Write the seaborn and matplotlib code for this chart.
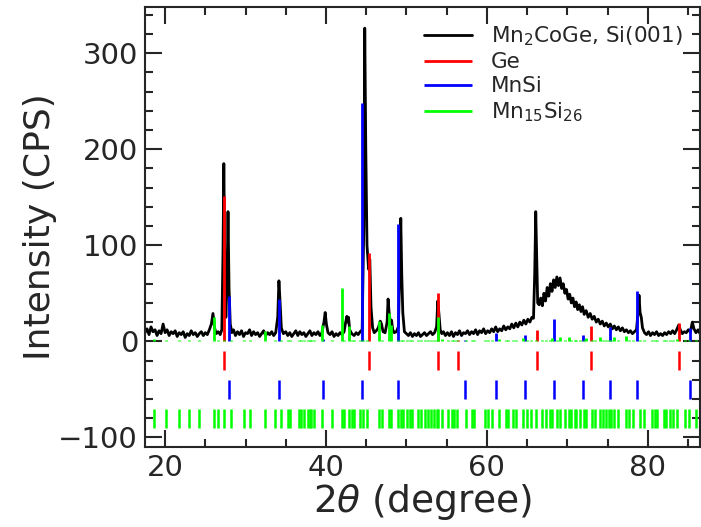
import numpy as np
import pandas as pd
import matplotlib
matplotlib.use("Agg")
import matplotlib.pyplot as plt
from matplotlib.ticker import MultipleLocator
import seaborn as sns

# Measured XRD scan of the Mn2CoGe film on Si(001)
two_theta = [
    17.50, 17.75, 18.00, 18.25, 18.50, 18.75, 19.00, 19.25, 19.50, 19.75,
    20.00, 20.25, 20.50, 20.75, 21.00, 21.25, 21.50, 21.75, 22.00, 22.25,
    22.50, 22.75, 23.00, 23.25, 23.50, 23.75, 24.00, 24.25, 24.50, 24.75,
    25.00, 25.25, 25.50, 25.75, 25.95, 26.15, 26.35, 26.60, 26.85, 27.05,
    27.20, 27.30, 27.42, 27.55, 27.70, 27.82, 27.95, 28.10, 28.30, 28.50,
    28.75, 29.00, 29.25, 29.50, 29.75, 30.00, 30.25, 30.50, 30.75, 31.00,
    31.25, 31.50, 31.75, 32.00, 32.25, 32.50, 32.75, 33.00, 33.25, 33.50,
    33.75, 34.00, 34.15, 34.30, 34.45, 34.70, 35.00, 35.25, 35.50, 35.75,
    36.00, 36.25, 36.50, 36.75, 37.00, 37.25, 37.50, 37.75, 38.00, 38.25,
    38.50, 38.75, 39.00, 39.25, 39.50, 39.75, 39.90, 40.05, 40.25, 40.50,
    40.75, 41.00, 41.25, 41.50, 41.75, 42.00, 42.25, 42.45, 42.60, 42.70,
    42.80, 42.95, 43.20, 43.50, 43.75, 44.00, 44.25, 44.50, 44.70, 44.82,
    44.95, 45.10, 45.30, 45.45, 45.60, 45.80, 46.00, 46.25, 46.50, 46.75,
    46.90, 47.10, 47.35, 47.60, 47.72, 47.85, 48.00, 48.15, 48.30, 48.50,
    48.75, 49.00, 49.15, 49.30, 49.42, 49.55, 49.75, 50.00, 50.25, 50.50,
    50.75, 51.00, 51.25, 51.50, 51.75, 52.00, 52.25, 52.50, 52.75, 53.00,
    53.25, 53.50, 53.75, 53.90, 54.05, 54.20, 54.40, 54.60, 54.85, 55.10,
    55.35, 55.60, 55.85, 56.10, 56.35, 56.60, 56.85, 57.10, 57.35, 57.60,
    57.85, 58.10, 58.35, 58.60, 58.85, 59.10, 59.35, 59.60, 59.85, 60.10,
    60.35, 60.60, 60.85, 61.10, 61.35, 61.60, 61.85, 62.10, 62.35, 62.60,
    62.85, 63.10, 63.35, 63.60, 63.85, 64.10, 64.35, 64.60, 64.85, 65.10,
    65.35, 65.60, 65.80, 65.95, 66.08, 66.20, 66.32, 66.50, 66.70, 66.90,
    67.10, 67.30, 67.50, 67.70, 67.90, 68.10, 68.30, 68.50, 68.70, 68.90,
    69.10, 69.30, 69.50, 69.70, 69.90, 70.10, 70.30, 70.50, 70.70, 70.90,
    71.10, 71.30, 71.50, 71.70, 71.90, 72.10, 72.35, 72.60, 72.85, 73.10,
    73.35, 73.60, 73.85, 74.10, 74.35, 74.60, 74.85, 75.10, 75.35, 75.60,
    75.85, 76.10, 76.35, 76.60, 76.85, 77.10, 77.35, 77.60, 77.85, 78.10,
    78.35, 78.60, 78.80, 78.92, 79.05, 79.20, 79.35, 79.60, 79.85, 80.10,
    80.35, 80.60, 80.85, 81.10, 81.35, 81.60, 81.85, 82.10, 82.35, 82.60,
    82.85, 83.10, 83.35, 83.60, 83.85, 84.05, 84.30, 84.55, 84.80, 85.05,
    85.30, 85.55, 85.75, 86.00, 86.25, 86.50,
]
counts = [
    9, 13, 7, 15, 10, 12, 6, 11, 8, 18,
    9, 12, 6, 10, 8, 11, 5, 9, 7, 10,
    4, 8, 6, 11, 7, 9, 5, 8, 10, 6,
    9, 7, 12, 18, 29, 14, 8, 10, 7, 12,
    95, 185, 80, 25, 60, 135, 55, 18, 9, 12,
    6, 10, 7, 11, 5, 9, 8, 12, 6, 10,
    7, 9, 5, 8, 11, 6, 9, 7, 10, 6,
    9, 25, 63, 40, 14, 8, 10, 6, 9, 5,
    8, 11, 6, 10, 7, 9, 5, 8, 11, 6,
    9, 7, 10, 6, 9, 20, 30, 18, 9, 7,
    10, 5, 8, 6, 9, 7, 10, 20, 26, 20,
    25, 12, 8, 6, 9, 7, 10, 12, 120, 326,
    200, 100, 75, 85, 35, 14, 9, 11, 14, 21,
    18, 10, 9, 20, 44, 30, 20, 22, 12, 9,
    10, 15, 65, 128, 70, 30, 10, 8, 6, 9,
    5, 8, 6, 9, 5, 7, 9, 6, 8, 10,
    7, 9, 15, 42, 28, 12, 8, 10, 6, 9,
    6, 10, 5, 9, 7, 11, 6, 9, 8, 11,
    7, 10, 8, 12, 7, 11, 9, 13, 8, 11,
    9, 13, 10, 15, 10, 13, 11, 16, 12, 15,
    13, 18, 14, 19, 15, 20, 17, 22, 18, 23,
    20, 25, 24, 70, 135, 90, 40, 38, 45, 37,
    50, 42, 56, 47, 60, 52, 64, 56, 67, 58,
    66, 55, 60, 50, 54, 44, 49, 40, 45, 36,
    41, 33, 38, 31, 36, 28, 32, 25, 29, 23,
    26, 20, 23, 18, 21, 16, 19, 15, 18, 13,
    16, 12, 15, 11, 14, 10, 12, 9, 11, 8,
    10, 12, 30, 48, 30, 25, 14, 9, 7, 10,
    6, 9, 7, 10, 6, 8, 6, 9, 7, 10,
    8, 11, 8, 12, 17, 12, 8, 10, 9, 12,
    10, 20, 13, 9, 12, 8,
]

# Reference reflections: positions (degree) and relative heights (CPS)
ge_pos = [27.30, 45.40, 53.95, 56.40, 66.20, 73.00, 83.90]
ge_int = [151, 92, 50, 1, 12, 16, 19]

mnsi_pos = [27.90, 34.10, 39.60, 44.50, 49.00, 57.30, 61.10, 64.80,
            68.40, 71.90, 75.30, 78.70, 85.30]
mnsi_int = [47, 44, 2, 248, 122, 1, 9, 7, 23, 7, 15, 52, 14]

mn15si26_pos = [
    18.63, 20.17, 21.70, 22.94, 24.18, 26.09, 26.58, 27.33, 28.24, 29.81,
    30.52, 32.46, 33.70, 34.45, 35.28, 35.49, 36.61, 36.94, 37.27, 37.76,
    37.97, 38.18, 38.51, 39.54, 40.75, 42.03, 42.24, 42.82, 43.23, 43.48,
    44.19, 44.60, 45.09, 46.55, 46.96, 47.79, 48.04, 48.94, 49.28, 49.57,
    50.10, 50.40, 50.68, 51.43, 51.84, 52.30, 52.71, 53.00, 53.42, 53.75,
    53.95, 54.45, 55.20, 55.61, 55.94, 56.24, 57.35, 58.10, 58.38, 59.83,
    60.17, 60.58, 61.49, 62.32, 62.65, 63.27, 63.60, 64.51, 64.93, 65.47,
    66.17, 66.80, 67.33, 67.83, 68.16, 68.73, 69.07, 69.77, 70.19, 70.52,
    70.93, 71.14, 71.55, 72.05, 72.38, 73.08, 73.42, 74.12, 74.45, 74.87,
    75.16, 75.49, 75.82, 76.31, 77.27, 77.68, 78.18, 79.01, 79.50, 80.54,
    80.87, 81.20, 82.03, 82.32, 82.73, 83.15, 83.65, 84.60, 85.14, 85.96,
]
mn15si26_int = [
    2, 1, 1, 1, 1, 25, 1, 1, 1, 1,
    1, 11, 1, 1, 1, 1, 1, 1, 1, 1,
    1, 1, 1, 17, 1, 55, 1, 16, 1, 1,
    1, 1, 1, 21, 1, 30, 17, 1, 1, 1,
    1, 1, 1, 1, 1, 1, 1, 1, 1, 1,
    25, 2, 1, 1, 1, 1, 1, 1, 1, 1,
    1, 1, 2, 1, 1, 1, 1, 3, 1, 1,
    1, 1, 1, 1, 3, 1, 5, 1, 4, 1,
    1, 1, 1, 1, 3, 1, 1, 5, 1, 1,
    1, 1, 5, 1, 6, 1, 1, 1, 1, 1,
    1, 1, 1, 1, 1, 1, 2, 1, 1, 1,
]

# Baseline offsets of the tick rows below the pattern
row_span = {"Ge": (-10, -30), "MnSi": (-40, -60), "Mn15Si26": (-70, -90)}

sns.set_style("ticks")
plt.rcParams["font.family"] = ["DejaVu Sans"]
plt.rcParams["mathtext.default"] = "regular"
plt.rcParams["mathtext.fontset"] = "dejavusans"

fig = plt.figure(figsize=(7.01, 5.27), dpi=100)
ax = fig.add_axes([145 / 701, 1 - 447 / 527, 555 / 701, 440 / 527])

scan = pd.DataFrame({"two_theta": two_theta, "counts": counts})
sns.lineplot(data=scan, x="two_theta", y="counts", ax=ax, color="black",
             lw=2.0, label=r"Mn$_2$CoGe, Si(001)", estimator=None, sort=False)

phases = [
    ("Ge", ge_pos, ge_int, "#ff0000", "Ge"),
    ("MnSi", mnsi_pos, mnsi_int, "#0000ff", "MnSi"),
    ("Mn15Si26", mn15si26_pos, mn15si26_int, "#00ff00", r"Mn$_{15}$Si$_{26}$"),
]
for key, pos, inten, col, lab in phases:
    ax.vlines(pos, 0, inten, colors=col, lw=2.0, label=lab)
    lo, hi = row_span[key]
    ax.vlines(pos, lo, hi, colors=col, lw=1.8)

ax.set_xlim(17.5, 86.5)
ax.set_ylim(-110, 348)
ax.xaxis.set_major_locator(MultipleLocator(20))
ax.xaxis.set_minor_locator(MultipleLocator(5))
ax.yaxis.set_major_locator(MultipleLocator(100))
ax.yaxis.set_minor_locator(MultipleLocator(20))
ax.tick_params(which="both", direction="in", top=True, right=True,
               width=1.5, labelsize=21)
ax.tick_params(which="major", length=12, pad=5)
ax.tick_params(which="minor", length=6)
for sp in ax.spines.values():
    sp.set_linewidth(1.5)

ax.set_xlabel(r"2$\mathit{\theta}$ (degree)", fontsize=27, labelpad=0)
ax.set_ylabel("Intensity (CPS)", fontsize=26, labelpad=1)

ax.legend(loc="upper right", frameon=False, fontsize=15.5, handlelength=2.2,
          borderaxespad=0.4, labelspacing=0.2, handletextpad=0.9)

fig.savefig("out.png", dpi=100)
